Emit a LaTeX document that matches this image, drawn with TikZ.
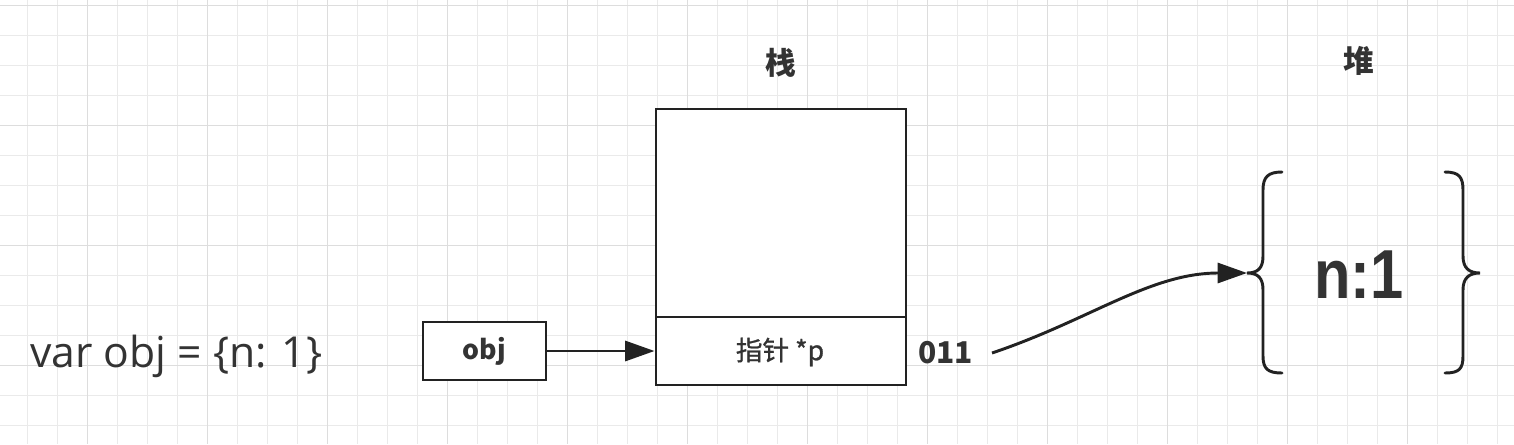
\documentclass[tikz,border=0pt]{standalone}
\usepackage{fontspec}
\usetikzlibrary{arrows.meta}
\newfontfamily\cjk{Noto Sans CJK SC}
\newfontfamily\cjkmed[FakeBold=1]{Noto Sans CJK SC}
\newfontfamily\osans{Open Sans}
\newfontfamily\lsans{Liberation Sans}
\definecolor{gridminor}{HTML}{EAEAEA}
\definecolor{gridmajor}{HTML}{DDDDDD}
\definecolor{ink}{HTML}{222222}
\definecolor{txt}{HTML}{333333}
\tikzset{
  gminor/.style={draw=gridminor, line width=0.75pt},
  gmajor/.style={draw=gridmajor, line width=0.75pt},
  cell/.style={draw=ink, line width=2.2pt, fill=white, inner sep=0pt},
  conn/.style={draw=ink, line width=2.2pt, -{Triangle[length=22pt,width=15pt]}},
  brace/.style={draw=ink, line width=2.2pt, line cap=round},
  lbl/.style={text=txt, inner sep=0pt},
}
\begin{document}
\begin{tikzpicture}[x=0.75pt,y=-0.75pt]
\useasboundingbox (0,0) rectangle (1514,444);
\fill[white] (0,0) rectangle (1514,444);
% grid
\foreach \x in {27,57,...,1514} \draw[gminor] (\x,0) -- (\x,444);
\foreach \y in {5,35,...,444} \draw[gminor] (0,\y) -- (1514,\y);
\foreach \x in {87,207,...,1514} \draw[gmajor] (\x,0) -- (\x,444);
\foreach \y in {5,125,...,444} \draw[gmajor] (0,\y) -- (1514,\y);

% stack
\node[cell, minimum width=187.5pt, minimum height=156pt] (stacktop) at (781,213) {};
\node[cell, minimum width=187.5pt, minimum height=51pt] (stackbot) at (781,351) {};
\node[lbl, font=\cjkmed\fontsize{20}{22}\selectfont] (ptr) at (780,352) {指针 *p};
\node[lbl, font=\cjk\bfseries\fontsize{23}{26}\selectfont] (zhan) at (781,63) {栈};
\node[lbl, font=\cjk\bfseries\fontsize{23}{26}\selectfont] (dui) at (1359,61) {堆};

% obj
\node[cell, minimum width=92.25pt, minimum height=43.5pt] (obj) at (484.5,351) {};
\node[lbl, font=\cjk\bfseries\fontsize{20}{22}\selectfont] (objt) at (484.5,351) {obj};

% code text
\node[lbl, anchor=base west, font=\osans\fontsize{32}{36}\selectfont] (code) at (30,367) {var obj = \{n: 1\}};

% 011
\node[lbl, anchor=base west, font=\cjk\bfseries\fontsize{22.5}{24}\selectfont] (addr) at (918,363) {011};
\coordinate (cstart) at (992,353);

% heap braces
\coordinate (lbtip) at (1247,273);
\coordinate (rbtip) at (1480,273);
\draw[brace] (1282,172) .. controls (1268,172) and (1263,177) .. (1263,190) -- (1263,256)
  .. controls (1263,268) and (1258,273) .. (lbtip)
  .. controls (1258,273) and (1263,278) .. (1263,290) -- (1263,356)
  .. controls (1263,369) and (1268,373) .. (1282,373);
\draw[brace] (1445,172) .. controls (1459,172) and (1463,177) .. (1463,190) -- (1463,256)
  .. controls (1463,268) and (1469,273) .. (rbtip)
  .. controls (1469,273) and (1463,278) .. (1463,290) -- (1463,356)
  .. controls (1463,369) and (1459,373) .. (1445,373);
\node[lbl, anchor=base, font=\lsans\bfseries\fontsize{52}{56}\selectfont, xscale=0.86] (heapval) at (1359,298) {n:1};

% connectors
\draw[conn] (obj.east) -- (stackbot.west);
\draw[conn] (cstart) .. controls (1090,320) and (1150,273) .. (lbtip);
\end{tikzpicture}
\end{document}
